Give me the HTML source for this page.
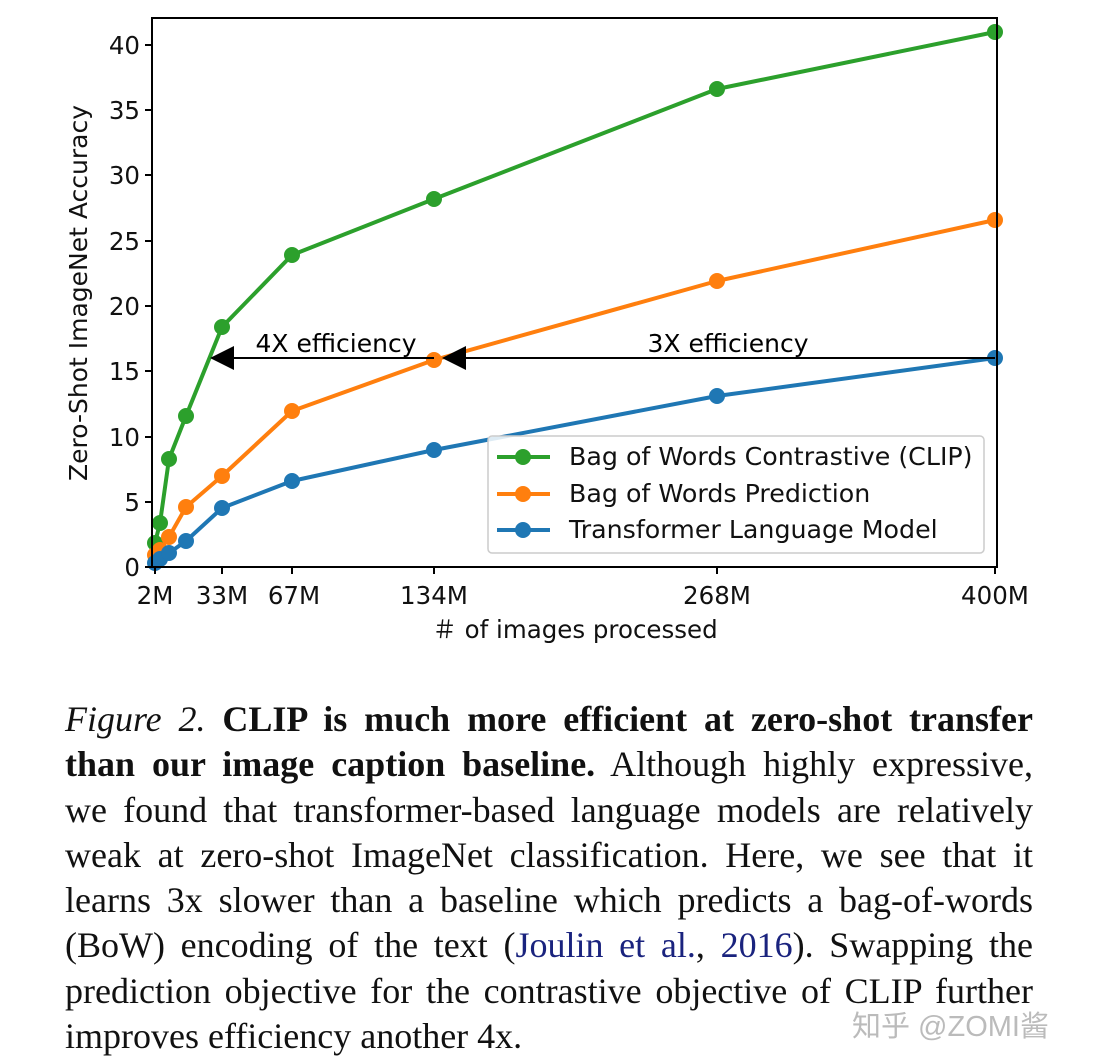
<!DOCTYPE html>
<html><head><meta charset="utf-8"><style>
body{margin:0;background:#fff;width:1100px;height:1062px;overflow:hidden;position:relative}
svg{position:absolute;left:0;top:0}
.cap{position:absolute;left:65px;width:968px;font-family:"Liberation Serif",serif;font-size:36px;line-height:45.3px;top:697px;color:#111}
.cap div{text-align:justify;text-align-last:justify;white-space:nowrap;height:45.3px}
.cap div.last{text-align-last:left}
.wm{position:absolute;left:852px;top:1003px;font-family:"Liberation Sans","Noto Sans CJK SC",sans-serif;font-size:29px;color:#bbb}
</style></head><body>
<svg width="1100" height="690" font-family="DejaVu Sans, sans-serif">
<g fill="none" stroke-width="4" stroke-linejoin="round">
<polyline stroke="#2ca02c" points="155,543 160,523 169,459 186,416 222,327 292,255 434,199 717,89 995,32"/>
<polyline stroke="#ff7f0e" points="155,555 160,550 169,537 186,507 222,476 292,411 434,360 717,281 995,220"/>
<polyline stroke="#1f77b4" points="155,563 160,559 169,553 186,541 222,508 292,481 434,450 717,396 995,358"/>
</g>
<g fill="#2ca02c"><circle cx="155" cy="543" r="8"/><circle cx="160" cy="523" r="8"/><circle cx="169" cy="459" r="8"/><circle cx="186" cy="416" r="8"/><circle cx="222" cy="327" r="8"/><circle cx="292" cy="255" r="8"/><circle cx="434" cy="199" r="8"/><circle cx="717" cy="89" r="8"/><circle cx="995" cy="32" r="8"/></g>
<g fill="#ff7f0e"><circle cx="155" cy="555" r="8"/><circle cx="160" cy="550" r="8"/><circle cx="169" cy="537" r="8"/><circle cx="186" cy="507" r="8"/><circle cx="222" cy="476" r="8"/><circle cx="292" cy="411" r="8"/><circle cx="434" cy="360" r="8"/><circle cx="717" cy="281" r="8"/><circle cx="995" cy="220" r="8"/></g>
<g fill="#1f77b4"><circle cx="155" cy="563" r="8"/><circle cx="160" cy="559" r="8"/><circle cx="169" cy="553" r="8"/><circle cx="186" cy="541" r="8"/><circle cx="222" cy="508" r="8"/><circle cx="292" cy="481" r="8"/><circle cx="434" cy="450" r="8"/><circle cx="717" cy="396" r="8"/><circle cx="995" cy="358" r="8"/></g>
<line x1="228" y1="358" x2="434" y2="358" stroke="#000" stroke-width="2"/>
<polygon points="210,358 234,346 234,370" fill="#000"/>
<line x1="460" y1="358" x2="995" y2="358" stroke="#000" stroke-width="2"/>
<polygon points="442,358 466,346 466,370" fill="#000"/>
<text x="336" y="352" font-size="25" text-anchor="middle">4X efficiency</text>
<text x="728" y="352" font-size="25" text-anchor="middle">3X efficiency</text>
<rect x="488" y="436" width="496" height="117" rx="4" fill="#fff" fill-opacity="0.85" stroke="#ccc" stroke-width="1.5"/>
<line x1="497" y1="457" x2="550" y2="457" stroke="#2ca02c" stroke-width="4"/><circle cx="523" cy="457" r="8" fill="#2ca02c"/>
<line x1="497" y1="494" x2="550" y2="494" stroke="#ff7f0e" stroke-width="4"/><circle cx="523" cy="494" r="8" fill="#ff7f0e"/>
<line x1="497" y1="530" x2="550" y2="530" stroke="#1f77b4" stroke-width="4"/><circle cx="523" cy="530" r="8" fill="#1f77b4"/>
<g font-size="25.3" fill="#111"><text x="569" y="465">Bag of Words Contrastive (CLIP)</text><text x="569" y="502">Bag of Words Prediction</text><text x="569" y="538">Transformer Language Model</text></g>
<rect x="152" y="18" width="845" height="549" fill="none" stroke="#000" stroke-width="2"/>
<g stroke="#000" stroke-width="2">
<line x1="145" y1="567" x2="152" y2="567"/><line x1="145" y1="502" x2="152" y2="502"/><line x1="145" y1="437" x2="152" y2="437"/><line x1="145" y1="371" x2="152" y2="371"/><line x1="145" y1="306" x2="152" y2="306"/><line x1="145" y1="241" x2="152" y2="241"/><line x1="145" y1="175" x2="152" y2="175"/><line x1="145" y1="110" x2="152" y2="110"/><line x1="145" y1="45" x2="152" y2="45"/>
<line x1="155" y1="567" x2="155" y2="574"/><line x1="222" y1="567" x2="222" y2="574"/><line x1="292" y1="567" x2="292" y2="574"/><line x1="434" y1="567" x2="434" y2="574"/><line x1="717" y1="567" x2="717" y2="574"/><line x1="995" y1="567" x2="995" y2="574"/>
</g>
<g font-size="24.5" text-anchor="end" fill="#111">
<text x="140" y="576">0</text><text x="140" y="511">5</text><text x="140" y="446">10</text><text x="140" y="380">15</text><text x="140" y="315">20</text><text x="140" y="250">25</text><text x="140" y="184">30</text><text x="140" y="119">35</text><text x="140" y="54">40</text>
</g>
<g font-size="24.5" text-anchor="middle" fill="#111">
<text x="155" y="604">2M</text><text x="222" y="604">33M</text><text x="294" y="604">67M</text><text x="434" y="604">134M</text><text x="717" y="604">268M</text><text x="995" y="604">400M</text>
<text x="575" y="638">＃ of images processed</text>
<text transform="translate(87,293) rotate(-90)" font-size="25">Zero-Shot ImageNet Accuracy</text>
</g>
</svg>
<div class="cap">
<div><i>Figure 2.</i> <b>CLIP is much more efficient at zero-shot transfer</b></div>
<div><b>than our image caption baseline.</b> Although highly expressive,</div>
<div>we found that transformer-based language models are relatively</div>
<div>weak at zero-shot ImageNet classification. Here, we see that it</div>
<div>learns 3x slower than a baseline which predicts a bag-of-words</div>
<div>(BoW) encoding of the text (<span style="color:#1a237e">Joulin et al.</span>, <span style="color:#1a237e">2016</span>). Swapping the</div>
<div>prediction objective for the contrastive objective of CLIP further</div>
<div class="last">improves efficiency another 4x.</div>
</div>
<div class="wm">知乎 @ZOMI酱</div>
</body></html>
